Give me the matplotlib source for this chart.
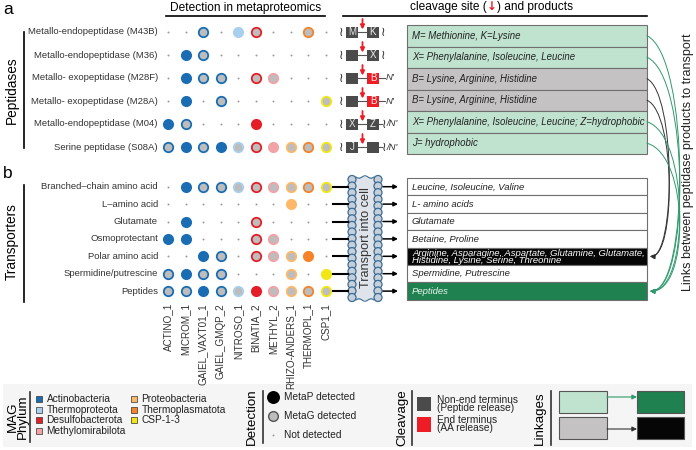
import numpy as np
import matplotlib.pyplot as plt
from matplotlib.patches import Rectangle, Circle, FancyArrowPatch
from matplotlib.path import Path

plt.rcParams['font.family'] = ['Liberation Sans', 'DejaVu Sans']

# ---- data ----
mags = ["ACTINO_1", "MICROM_1", "GAIEL_VAXT01_1", "GAIEL_GMQP_2", "NITROSO_1",
        "BINATIA_2", "METHYL_2", "RHIZO-ANDERS_1", "THERMOPL_1", "CSP1_1"]
mag_phylum = ["Actinobacteria", "Actinobacteria", "Actinobacteria", "Actinobacteria",
              "Thermoproteota", "Desulfobacterota", "Methylomirabilota",
              "Proteobacteria", "Thermoplasmatota", "CSP-1-3"]
phyla = ["Actinobacteria", "Thermoproteota", "Desulfobacterota", "Methylomirabilota",
         "Proteobacteria", "Thermoplasmatota", "CSP-1-3"]
phylum_colors = ["#1a6db3", "#a8d0ec", "#e41e26", "#f3a2a7",
                 "#fdb86a", "#f4832a", "#f1e715"]

peptidases = ["Metallo-endopeptidase (M43B)", "Metallo-endopeptidase (M36)",
              "Metallo- exopeptidase (M28F)", "Metallo- exopeptidase (M28A)",
              "Metallo-endopeptidase (M04)", "Serine peptidase (S08A)"]
# 0 = not detected, 1 = MetaG detected, 2 = MetaP detected
pep_detect = [[0, 0, 1, 0, 2, 1, 0, 0, 1, 0],
              [0, 2, 1, 0, 0, 0, 0, 0, 0, 0],
              [0, 2, 1, 1, 0, 1, 1, 0, 0, 0],
              [0, 2, 0, 1, 0, 0, 0, 0, 0, 1],
              [2, 1, 0, 0, 0, 2, 0, 0, 0, 0],
              [1, 2, 1, 2, 1, 1, 2, 1, 1, 1]]
pep_products = ["M= Methionine, K=Lysine",
                "X= Phenylalanine, Isoleucine, Leucine",
                "B= Lysine, Arginine, Histidine",
                "B= Lysine, Arginine, Histidine",
                "X= Phenylalanine, Isoleucine, Leucine; Z=hydrophobic",
                "J= hydrophobic"]
pep_release = ["peptide", "peptide", "aa", "aa", "peptide", "peptide"]
cleave_left = ["M", "", "", "", "X", "J"]
cleave_right = ["K", "X", "B", "B", "Z", ""]
cleave_tail = ["≀", "≀", "N'", "N'", "≀/N'", "≀/N'"]

transporters = ["Branched\u2013chain amino acid", "L\u2013amino acid", "Glutamate",
                "Osmoprotectant", "Polar amino acid", "Spermidine/putrescine", "Peptides"]
tr_detect = [[0, 2, 1, 1, 1, 1, 1, 1, 1, 1],
             [0, 0, 0, 0, 0, 0, 0, 2, 0, 0],
             [0, 2, 0, 0, 0, 1, 0, 0, 0, 0],
             [2, 2, 0, 0, 0, 1, 1, 0, 0, 0],
             [0, 0, 2, 1, 0, 1, 1, 1, 2, 0],
             [1, 2, 1, 1, 0, 0, 0, 1, 0, 2],
             [1, 1, 2, 1, 1, 2, 1, 1, 1, 1]]
tr_products = ["Leucine, Isoleucine, Valine", "L- amino acids", "Glutamate",
               "Betaine, Proline",
               "Arginine, Asparagine, Aspartate, Glutamine, Glutamate,\nHistidine, Lysine, Serine, Threonine",
               "Spermidine, Putrescine", "Peptides"]
tr_style = ["white", "white", "white", "white", "aa", "white", "peptide"]

# ---- styles ----
box_fc = {"peptide": "#bfe3cf", "aa": "#c5c2c3", "white": "white"}
tr_fc = {"white": "white", "aa": "#060606", "peptide": "#1f8050"}
tr_tc = {"white": "#222222", "aa": "white", "peptide": "#e8f5ee"}
link_col = {"peptide": "#2f9a6c", "aa": "#333333"}
gray_fill = "#bdbdbd"
dark_box = "#4b4b4b"

fig = plt.figure(figsize=(6.96, 4.5), dpi=100)
ax = fig.add_axes([0, 0, 1, 1])
ax.set_xlim(0, 696)
ax.set_ylim(450, 0)
ax.axis('off')

col_x = 168 + 17.5 * np.arange(len(mags))
pep_y = 32 + 23 * np.arange(len(peptidases))
tr_y = 178 + 17.4 * (np.arange(len(transporters)) + 0.5)
col_color = [phylum_colors[phyla.index(p)] for p in mag_phylum]


def draw_dots(matrix, ys):
    for i, row in enumerate(matrix):
        for j, v in enumerate(row):
            c = col_color[j]
            if v == 0:
                ax.plot(col_x[j], ys[i], 'o', ms=1.4, color='#9a9a9a', mew=0)
            elif v == 1:
                ax.plot(col_x[j], ys[i], 'o', ms=6.8, mfc=gray_fill, mec=c, mew=1.3)
            else:
                ax.plot(col_x[j], ys[i], 'o', ms=8.0, color=c, mew=0)


# panel letters / headers
ax.text(3, 9, "a", fontsize=12.5, va='center')
ax.text(3, 173, "b", fontsize=12.5, va='center')
ax.text(245.5, 8, "Detection in metaproteomics", fontsize=8.6, ha='center', va='center')
ax.plot([166, 325], [16, 16], color='black', lw=1.2)
t1 = ax.text(410, 13, "cleavage site (", fontsize=8.6, ha='left', va='bottom')
t2 = ax.annotate("\u2193", xy=(1, 0), xycoords=t1, va='bottom', fontsize=8.6,
                 color='#e41e26', family='DejaVu Sans', fontweight='bold')
ax.annotate(") and products", xy=(1, 0), xycoords=t2, va='bottom', fontsize=8.6)
ax.plot([343, 647], [16, 16], color='black', lw=1.2)

# group labels
ax.text(12, 90, "Peptidases", rotation=90, fontsize=9.8, ha='center', va='center')
ax.plot([24, 24], [32, 148], color='black', lw=1.2)
ax.text(12, 242, "Transporters", rotation=90, fontsize=9.8, ha='center', va='center')
ax.plot([24, 24], [185, 302], color='black', lw=1.2)

for i, name in enumerate(peptidases):
    ax.text(158, pep_y[i], name, fontsize=6.8, ha='right', va='center', color='#333333')
for i, name in enumerate(transporters):
    ax.text(158, tr_y[i], name, fontsize=6.8, ha='right', va='center', color='#333333')
for j, name in enumerate(mags):
    ax.text(col_x[j], 303, name, fontsize=7.1, rotation=90, ha='center', va='top',
            color='#333333')

draw_dots(pep_detect, pep_y)
draw_dots(tr_detect, tr_y)

# cleavage diagrams
sq = dict(fontsize=9, family='DejaVu Sans', ha='center', va='center', color='#333333')
for i in range(len(peptidases)):
    y = pep_y[i]
    ax.text(341.5, y + 0.5, "≀", **sq)
    ax.add_patch(Rectangle((346, y - 5.5), 12, 11, fc=dark_box, ec='none'))
    rc = '#ee1c25' if pep_release[i] == "aa" else dark_box
    ax.add_patch(Rectangle((367, y - 5.5), 12, 11, fc=rc, ec='none'))
    ax.plot([358, 367], [y, y], color='#555555', lw=0.8)
    ax.text(352, y, cleave_left[i], fontsize=7, color='#e6e6e6', ha='center', va='center')
    ax.text(373, y, cleave_right[i], fontsize=7, color='#f0f0f0', ha='center', va='center')
    ax.annotate('', xy=(362.5, y - 2.5), xytext=(362.5, y - 13),
                arrowprops=dict(arrowstyle='-|>', color='#ee1c25', lw=1.3, mutation_scale=6,
                                shrinkA=0, shrinkB=0))
    tail = cleave_tail[i]
    if tail == "N'":
        ax.plot([379, 385], [y, y], color='#555555', lw=0.8)
        ax.text(385.5, y, "N'", fontsize=6.8, style='italic', va='center', color='#333333')
    elif tail == "≀":
        ax.text(383.5, y + 0.5, "≀", **sq)
    else:
        ax.plot([379, 382], [y, y], color='#555555', lw=0.8)
        ax.text(384, y + 0.5, "≀", **sq)
        ax.text(386.5, y, "/N'", fontsize=6.8, style='italic', va='center', color='#333333')

# peptidase product table
pep_top, pep_h = 25, 21.5
for i, txt in enumerate(pep_products):
    ax.add_patch(Rectangle((407, pep_top + i * pep_h), 240, pep_h,
                           fc=box_fc[pep_release[i]], ec='#6f6f6f', lw=0.8))
    ax.text(412, pep_top + (i + 0.5) * pep_h, txt, fontsize=6.9, style='italic',
            va='center', color='#222222')

# transporter product table
tr_top, tr_h = 178, 17.4
for i, txt in enumerate(tr_products):
    st = tr_style[i]
    ax.add_patch(Rectangle((407, tr_top + i * tr_h), 240, tr_h,
                           fc=tr_fc[st], ec='#6f6f6f', lw=0.8))
    ax.text(412, tr_top + (i + 0.5) * tr_h + 0.3, txt, fontsize=6.8, style='italic',
            va='center', color=tr_tc[st], linespacing=0.72)

# membrane
ax.add_patch(Rectangle((352, 177), 26, 123, fc='#dfe4ea', ec='none'))
for yy in np.linspace(179.5, 297.5, 19):
    for xx in (352, 378):
        ax.add_patch(Circle((xx, yy), 4.0, fc='#c6d0da', ec='#3c6b93', lw=0.9))
wx = np.linspace(356, 374, 30)
for yb, s in ((177, 1), (300, -1)):
    ax.plot(wx, yb + s * 1.2 * np.sin((wx - 356) / 18 * 3 * np.pi), color='#3c6b93', lw=0.8)
ax.text(365.5, 238, "Transport into cell", rotation=90, fontsize=9.2, ha='center',
        va='center', color='#333333')
for y in tr_y:
    ax.plot([333, 348], [y, y], color='black', lw=1.5)
    ax.annotate('', xy=(398, y), xytext=(383, y),
                arrowprops=dict(arrowstyle='-|>', color='black', lw=1.1, mutation_scale=6,
                                shrinkA=0, shrinkB=0))

# links between peptidase products and transporters
pep_row_y = pep_top + (np.arange(len(peptidases)) + 0.5) * pep_h
target_y = {"peptide": tr_top + 6.5 * tr_h, "aa": tr_top + 4.5 * tr_h}
for i, rel in enumerate(pep_release):
    y0 = pep_row_y[i]
    y1 = target_y[rel]
    xb = 690 if rel == "peptide" else 676
    verts = [(647, y0), (xb, y0 + 0.08 * (y1 - y0)), (xb, y1 + 2), (650, y1)]
    codes = [Path.MOVETO, Path.CURVE4, Path.CURVE4, Path.CURVE4]
    ax.add_patch(FancyArrowPatch(path=Path(verts, codes), arrowstyle='-|>',
                                 mutation_scale=7, color=link_col[rel], lw=0.7))
ax.text(688, 162, "Links between peptidase products to transport", rotation=90,
        fontsize=9, ha='center', va='center', color='#222222')

# ---- legend panel ----
ax.add_patch(Rectangle((3, 384), 689, 63, fc='#f5f5f5', ec='none'))

ax.text(18, 417, "MAG\nPhylum", rotation=90, fontsize=9.6, ha='center', va='center',
        linespacing=0.85)
ax.plot([30, 30], [392, 442], color='#333333', lw=1.2)
for k, (p, c) in enumerate(zip(phyla, phylum_colors)):
    col, row = divmod(k, 4)
    x = 35.5 + col * 95
    y = 399 + row * 10.7
    ax.add_patch(Rectangle((x, y - 3), 6, 6, fc=c, ec='#333333', lw=0.5))
    ax.text(x + 11, y, p, fontsize=7.3, va='center', color='#222222')

ax.text(252, 417, "Detection", rotation=90, fontsize=9.6, ha='center', va='center')
ax.plot([263, 263], [391, 443], color='#333333', lw=1.2)
ax.plot(273, 397, 'o', ms=8.3, color='black')
ax.plot(273, 416, 'o', ms=7.0, mfc=gray_fill, mec='#555555', mew=1.0)
ax.plot(273, 435, 'o', ms=1.4, color='#9a9a9a', mew=0)
for y, t in ((397, "MetaP detected"), (416, "MetaG detected"), (435, "Not detected")):
    ax.text(284, y, t, fontsize=7.3, va='center', color='#222222')

ax.text(402, 418, "Cleavage", rotation=90, fontsize=9.6, ha='center', va='center')
ax.plot([412, 412], [391, 445], color='#333333', lw=1.2)
ax.add_patch(Rectangle((417, 397), 14, 14, fc=dark_box, ec='none'))
ax.add_patch(Rectangle((417, 417), 14, 15, fc='#ee1c25', ec='none'))
ax.text(437, 404, "Non-end terminus\n(Peptide release)", fontsize=7.3, va='center',
        linespacing=0.85, color='#222222')
ax.text(437, 424, "End terminus\n(AA release)", fontsize=7.3, va='center',
        linespacing=0.85, color='#222222')

ax.text(540, 418, "Linkages", rotation=90, fontsize=9.6, ha='center', va='center')
ax.plot([551, 551], [391, 445], color='#333333', lw=1.2)
for (fc1, fc2, lc, y) in ((box_fc["peptide"], tr_fc["peptide"], link_col["peptide"], 391),
                          (box_fc["aa"], tr_fc["aa"], link_col["aa"], 417)):
    ax.add_patch(Rectangle((559, y), 48, 22, fc=fc1, ec='#555555', lw=0.8))
    ax.add_patch(Rectangle((637, y), 47, 22, fc=fc2, ec='#555555', lw=0.8))
    ya = y + 6 if y == 391 else y + 12
    ax.annotate('', xy=(637, ya), xytext=(607, ya),
                arrowprops=dict(arrowstyle='-|>', color=lc, lw=0.8, mutation_scale=7,
                                shrinkA=0, shrinkB=0))

fig.savefig("out.png", dpi=100)
